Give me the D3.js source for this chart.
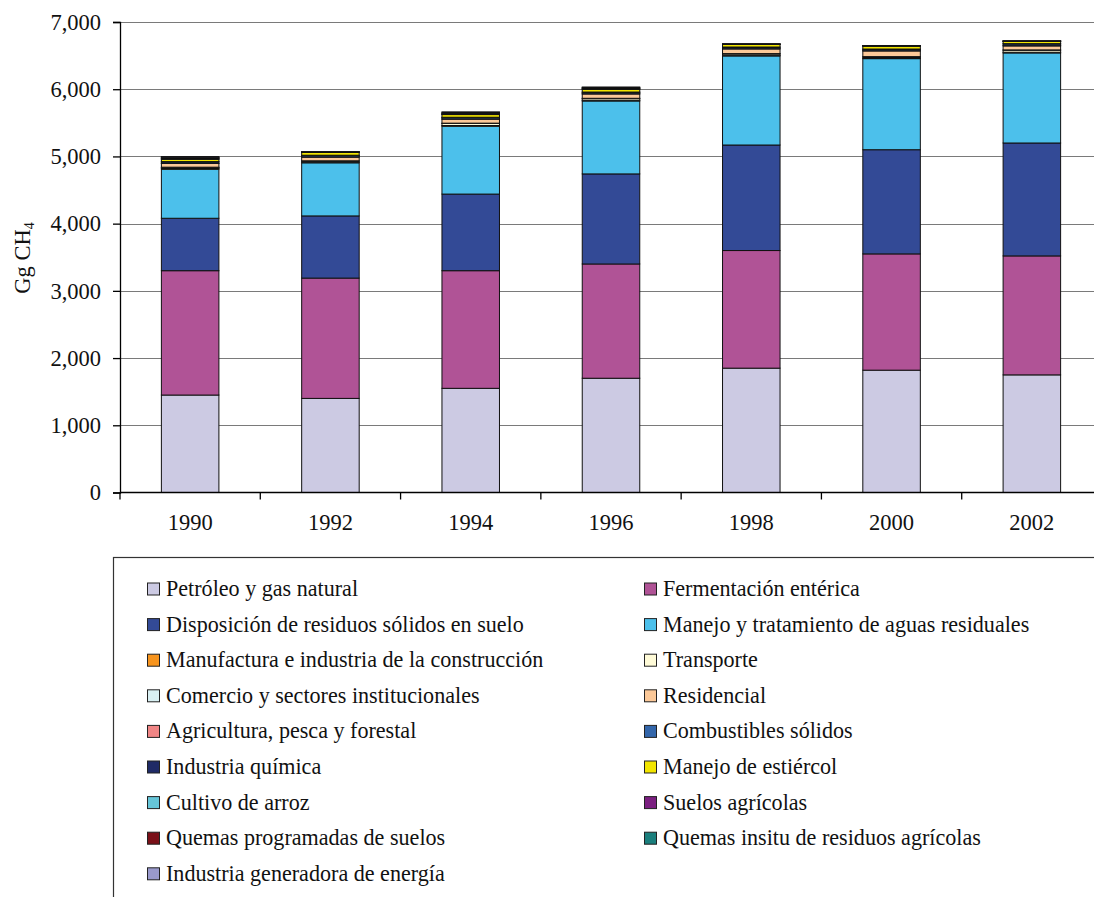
<!DOCTYPE html>
<html>
<head>
<meta charset="utf-8">
<script src="https://cdn.jsdelivr.net/npm/d3@7"></script>
<style>
  html, body { margin: 0; padding: 0; background: #fff; overflow: hidden; }
  svg { display: block; font-family: "Liberation Serif", "DejaVu Serif", serif; }
</style>
</head>
<body>
<svg id="chart" width="1094" height="897"></svg>
<script>
// Emisiones de CH4 por fuente (Gg CH4)
const years = ["1990", "1992", "1994", "1996", "1998", "2000", "2002"];

const seriesNames = [
  "Petróleo y gas natural",
  "Fermentación entérica",
  "Disposición de residuos sólidos en suelo",
  "Manejo y tratamiento de aguas residuales",
  "Manufactura e industria de la construcción",
  "Transporte",
  "Comercio y sectores institucionales",
  "Residencial",
  "Agricultura, pesca y forestal",
  "Combustibles sólidos",
  "Industria química",
  "Manejo de estiércol",
  "Cultivo de arroz",
  "Suelos agrícolas",
  "Quemas programadas de suelos",
  "Quemas insitu de residuos agrícolas",
  "Industria generadora de energía"
];

const seriesColors = [
  "#cccae3", "#b05396", "#334a96", "#4cc0eb", "#f7941d", "#fffbd8",
  "#d9f0f3", "#fbc898", "#f08585", "#3366aa", "#1f2a66", "#f2e500",
  "#66c6d9", "#7b1f80", "#7a1018", "#1b7f7d", "#9999cc"
];

const petroleo      = [1450, 1400, 1550, 1700, 1850, 1820, 1750];
const fermentacion  = [1850, 1790, 1750, 1700, 1750, 1730, 1770];
const disposicion   = [780, 925, 1140, 1340, 1570, 1550, 1680];
const aguas         = [730, 790, 1010, 1085, 1325, 1355, 1340];
const manufactura   = [10, 10, 10, 10, 10, 10, 10];
const transporte    = [15, 15, 30, 25, 20, 15, 30];
const comercio      = [5, 5, 5, 5, 5, 5, 5];
const residencial   = [55, 55, 60, 65, 70, 85, 60];
const agricultura   = [3, 3, 3, 3, 3, 3, 3];
const combustibles  = [20, 20, 20, 20, 20, 20, 25];
const quimica       = [5, 5, 5, 5, 5, 5, 5];
const estiercol     = [35, 45, 40, 40, 40, 45, 35];
const arroz         = [5, 1, 5, 5, 1, 1, 1];
const suelos        = [5, 1, 5, 5, 1, 1, 1];
const quemasProg    = [15, 1, 10, 10, 1, 1, 1];
const quemasInsitu  = [5, 1, 5, 5, 1, 1, 1];
const generadora    = [10, 1, 15, 10, 1, 1, 1];

const yTicks = [0, 1000, 2000, 3000, 4000, 5000, 6000, 7000];

const seriesValues = [
  petroleo, fermentacion, disposicion, aguas, manufactura, transporte,
  comercio, residencial, agricultura, combustibles, quimica, estiercol,
  arroz, suelos, quemasProg, quemasInsitu, generadora
];

// Tabla por año para d3.stack
const keys = seriesNames;
const table = years.map((yr, i) => {
  const row = { year: yr };
  keys.forEach((k, s) => { row[k] = seriesValues[s][i]; });
  return row;
});

const svg = d3.select("#chart");

const plot = { left: 120, right: 1102, top: 22, bottom: 492.5 };

const x = d3.scaleBand()
  .domain(years)
  .range([plot.left, plot.right])
  .paddingInner(0.59)
  .paddingOuter(0.295);

const y = d3.scaleLinear()
  .domain([0, 7000])
  .range([plot.bottom, plot.top]);

// Líneas de cuadrícula
svg.append("g")
  .selectAll("line")
  .data(yTicks.filter(d => d > 0))
  .join("line")
  .attr("x1", plot.left)
  .attr("x2", plot.right)
  .attr("y1", d => Math.round(y(d)) + 0.5)
  .attr("y2", d => Math.round(y(d)) + 0.5)
  .attr("stroke", "#7a7a7a")
  .attr("stroke-width", 1.2);

// Barras apiladas
const stacked = d3.stack().keys(keys)(table);

svg.append("g")
  .selectAll("g")
  .data(stacked)
  .join("g")
  .attr("fill", (d, i) => seriesColors[i])
  .selectAll("rect")
  .data(d => d)
  .join("rect")
  .attr("x", d => x(d.data.year))
  .attr("width", x.bandwidth())
  .attr("y", d => y(d[1]))
  .attr("height", d => Math.max(0, y(d[0]) - y(d[1])))
  .attr("stroke", "#111")
  .attr("stroke-width", 1);

// Eje Y
const yAxis = d3.axisLeft(y)
  .tickValues(yTicks)
  .tickFormat(d3.format(","))
  .tickSize(7)
  .tickPadding(12);

const gy = svg.append("g")
  .attr("transform", `translate(${plot.left},0)`)
  .call(yAxis);
gy.select(".domain").attr("stroke", "#000").attr("stroke-width", 1.3);
gy.selectAll(".tick line").attr("stroke", "#000").attr("stroke-width", 1.3);
gy.selectAll(".tick text")
  .attr("font-family", "Liberation Serif, serif")
  .attr("font-size", 22.5)
  .attr("fill", "#111");

// Eje X
const gx = svg.append("g")
  .attr("transform", `translate(0,${plot.bottom})`);
gx.append("line")
  .attr("x1", plot.left).attr("x2", plot.right)
  .attr("y1", 0).attr("y2", 0)
  .attr("stroke", "#000").attr("stroke-width", 1.3);
const step = x.step();
gx.selectAll("line.tick")
  .data(d3.range(years.length + 1))
  .join("line")
  .attr("class", "tick")
  .attr("x1", i => plot.left + i * step)
  .attr("x2", i => plot.left + i * step)
  .attr("y1", 0).attr("y2", 7)
  .attr("stroke", "#000").attr("stroke-width", 1.3);
gx.selectAll("text")
  .data(years)
  .join("text")
  .attr("x", d => x(d) + x.bandwidth() / 2)
  .attr("y", 37)
  .attr("text-anchor", "middle")
  .attr("font-size", 22.5)
  .attr("fill", "#111")
  .text(d => d);

// Título del eje Y
const yTitle = svg.append("text")
  .attr("transform", "translate(30,258) rotate(-90)")
  .attr("text-anchor", "middle")
  .attr("font-size", 22.5)
  .attr("fill", "#111");
yTitle.append("tspan").text("Gg CH");
yTitle.append("tspan").attr("font-size", 14).attr("dy", 4).text("4");

// Leyenda
const legend = svg.append("g");
legend.append("rect")
  .attr("x", 113.5).attr("y", 557.5)
  .attr("width", 1000).attr("height", 400)
  .attr("fill", "none")
  .attr("stroke", "#333")
  .attr("stroke-width", 1.2);

const colX = [147, 644];
const rowY0 = 589, rowStep = 35.6;
const items = legend.selectAll("g.item")
  .data(seriesNames)
  .join("g")
  .attr("class", "item")
  .attr("transform", (d, i) => `translate(${colX[i % 2]},${rowY0 + Math.floor(i / 2) * rowStep})`);
items.append("rect")
  .attr("x", 0.5).attr("y", -6)
  .attr("width", 12).attr("height", 12)
  .attr("fill", (d, i) => seriesColors[i])
  .attr("stroke", "#222")
  .attr("stroke-width", 1);
items.append("text")
  .attr("x", 19)
  .attr("y", 7)
  .attr("font-size", 22.1)
  .attr("fill", "#111")
  .text(d => d);
</script>
</body>
</html>
